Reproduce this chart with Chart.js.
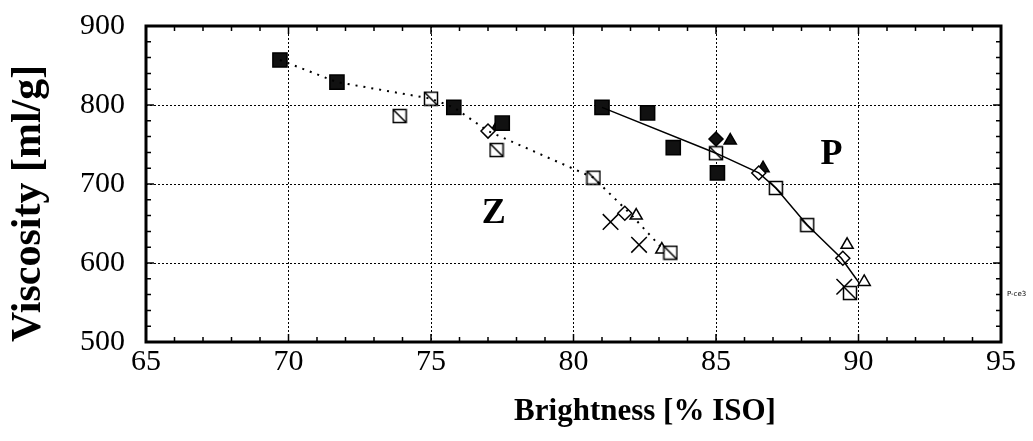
<!DOCTYPE html>
<html>
<head>
<meta charset="utf-8">
<script src="https://cdn.jsdelivr.net/npm/chart.js@4/dist/chart.umd.min.js"></script>
<style>
  html, body { margin: 0; padding: 0; background: #fff; }
  #wrap { width: 1033px; height: 441px; position: relative; }
</style>
</head>
<body>
<div id="wrap"><canvas id="chart"></canvas></div>
<script>
// Z series (dotted curve)
const zLine = [[69.7, 857], [71.7, 829], [75.0, 808], [75.8, 797], [77.0, 767], [80.7, 708], [82.0, 662], [83.2, 615]];
const zFilledSquare = [[69.7, 857], [71.7, 829], [75.8, 797], [77.5, 777]];
const zOpenSquare = [[73.9, 786], [75.0, 808], [77.3, 743], [80.7, 708], [83.4, 613]];
const zOpenDiamond = [[77.0, 767], [81.8, 663]];
const zOpenTriangle = [[82.2, 660], [83.1, 617]];
const zFilledTriangle = [[77.3, 772]];
const zCross = [[81.3, 652], [82.3, 623]];

// P series (solid curve)
const pLine = [[81.0, 797], [85.0, 739], [86.5, 714], [87.1, 695], [88.2, 648], [89.4, 606], [90.0, 576]];
const pFilledSquare = [[81.0, 797], [82.6, 790], [83.5, 746], [85.05, 714]];
const pFilledDiamond = [[85.0, 757]];
const pFilledTriangle = [[85.5, 755], [86.65, 720]];
const pOpenSquare = [[85.0, 739], [87.1, 695], [88.2, 648], [89.7, 562]];
const pOpenDiamond = [[86.5, 714], [89.45, 606]];
const pOpenTriangle = [[89.6, 623], [90.2, 576]];
const pCross = [[89.5, 570]];

const xTicks = [65, 70, 75, 80, 85, 90, 95];
const yTicks = [500, 600, 700, 800, 900];
const regionLabels = [{ text: 'Z', x: 77.2, y: 663 }, { text: 'P', x: 89.05, y: 737 }];

const SERIF = "'Liberation Serif', 'Times New Roman', serif";

const toXY = arr => arr.map(p => ({ x: p[0], y: p[1] }));

// open square with a diagonal stroke
function squareDiag(size) {
    const c = document.createElement('canvas');
    c.width = size; c.height = size;
    const g = c.getContext('2d');
    g.fillStyle = '#fff';
    g.fillRect(1, 1, size - 2, size - 2);
    g.strokeStyle = '#000';
    g.lineWidth = 1.5;
    g.strokeRect(1.5, 1.5, size - 3, size - 3);
    g.beginPath();
    g.moveTo(2, 2);
    g.lineTo(size - 2, size - 2);
    g.stroke();
    return c;
}
const sqDiag = squareDiag(16);

function markers(label, data, style, filled, radius) {
    return {
        label, data: toXY(data), showLine: false,
        pointStyle: style, pointRadius: radius, pointHoverRadius: radius,
        pointBackgroundColor: filled ? '#111' : '#fff',
        pointBorderColor: '#000', pointBorderWidth: 1.5
    };
}

const framePlugin = {
    id: 'frame',
    afterDatasetsDraw(chart) {
        const { ctx, chartArea: a, scales: { x, y } } = chart;
        ctx.save();
        ctx.strokeStyle = '#000';
        // inward ticks
        ctx.lineWidth = 1.5;
        ctx.beginPath();
        for (let v = 65; v <= 95; v++) {
            const px = x.getPixelForValue(v);
            const len = v % 5 === 0 ? 8 : 5;
            ctx.moveTo(px, a.bottom); ctx.lineTo(px, a.bottom - len);
            ctx.moveTo(px, a.top); ctx.lineTo(px, a.top + len);
        }
        for (let v = 500; v <= 900; v += 20) {
            const py = y.getPixelForValue(v);
            const len = v % 100 === 0 ? 8 : 5;
            ctx.moveTo(a.left, py); ctx.lineTo(a.left + len, py);
            ctx.moveTo(a.right, py); ctx.lineTo(a.right - len, py);
        }
        ctx.stroke();
        ctx.lineWidth = 3;
        ctx.strokeRect(a.left, a.top, a.right - a.left, a.bottom - a.top);

        // region labels
        ctx.fillStyle = '#000';
        ctx.font = 'bold 36px ' + SERIF;
        ctx.textAlign = 'center';
        ctx.textBaseline = 'middle';
        regionLabels.forEach(l => ctx.fillText(l.text, x.getPixelForValue(l.x), y.getPixelForValue(l.y)));

        // x axis title
        ctx.font = 'bold 31px ' + SERIF;
        ctx.fillText('Brightness [% ISO]', 645, 412);

        // tiny plot id
        ctx.font = '7px "DejaVu Sans", sans-serif';
        ctx.textAlign = 'left';
        ctx.fillText('P-ce3', a.right + 6, y.getPixelForValue(560));
        ctx.restore();
    }
};

const xGrid = { color: '#000', lineWidth: 1, borderDash: [2, 2], drawTicks: false, tickLength: 0 };
const yGrid = { color: '#000', lineWidth: 1, borderDash: [2, 2], drawTicks: true, tickLength: 20,
                tickColor: 'rgba(0,0,0,0)' };

new Chart(document.getElementById('chart'), {
    type: 'scatter',
    data: {
        datasets: [
            { label: 'Z', data: toXY(zLine), showLine: true, borderColor: '#000', borderWidth: 2,
              borderDash: [2, 6], pointRadius: 0, fill: false },
            { label: 'P', data: toXY(pLine), showLine: true, borderColor: '#000', borderWidth: 1.5,
              pointRadius: 0, fill: false },
            markers('Z filled square', zFilledSquare, 'rect', true, 10),
            markers('Z open square', zOpenSquare, sqDiag, false, 8),
            markers('Z open diamond', zOpenDiamond, 'rectRot', false, 7),
            markers('Z filled triangle', zFilledTriangle, 'triangle', true, 6),
            markers('Z open triangle', zOpenTriangle, 'triangle', false, 7),
            markers('Z cross', zCross, 'crossRot', false, 11),
            markers('P filled square', pFilledSquare, 'rect', true, 10),
            markers('P open square', pOpenSquare, sqDiag, false, 8),
            markers('P open diamond', pOpenDiamond, 'rectRot', false, 7),
            markers('P filled diamond', pFilledDiamond, 'rectRot', true, 7),
            markers('P filled triangle', pFilledTriangle, 'triangle', true, 7),
            markers('P open triangle', pOpenTriangle, 'triangle', false, 7),
            markers('P cross', pCross, 'crossRot', false, 11)
        ]
    },
    options: {
        responsive: true,
        maintainAspectRatio: false,
        animation: false,
        layout: { padding: { left: 0, top: 26, right: 32, bottom: 0 } },
        plugins: { legend: { display: false }, tooltip: { enabled: false } },
        scales: {
            x: {
                type: 'linear', min: 65, max: 95,
                afterBuildTicks: s => { s.ticks = xTicks.map(v => ({ value: v })); },
                afterFit: s => { s.height = 99; },
                grid: xGrid,
                border: { display: false, dash: [2, 2] },
                ticks: { color: '#000', padding: 2, font: { family: SERIF, size: 30 } }
            },
            y: {
                type: 'linear', min: 500, max: 900,
                afterBuildTicks: s => { s.ticks = yTicks.map(v => ({ value: v })); },
                afterFit: s => { s.width = 146; },
                grid: yGrid,
                border: { display: false, dash: [2, 2] },
                ticks: { color: '#000', padding: 1, font: { family: SERIF, size: 30 } },
                title: { display: true, text: 'Viscosity [ml/g]', align: 'start', color: '#000',
                         padding: { top: 4, bottom: 0 }, font: { family: SERIF, size: 42, weight: 'bold' } }
            }
        }
    },
    plugins: [framePlugin]
});
</script>
</body>
</html>
